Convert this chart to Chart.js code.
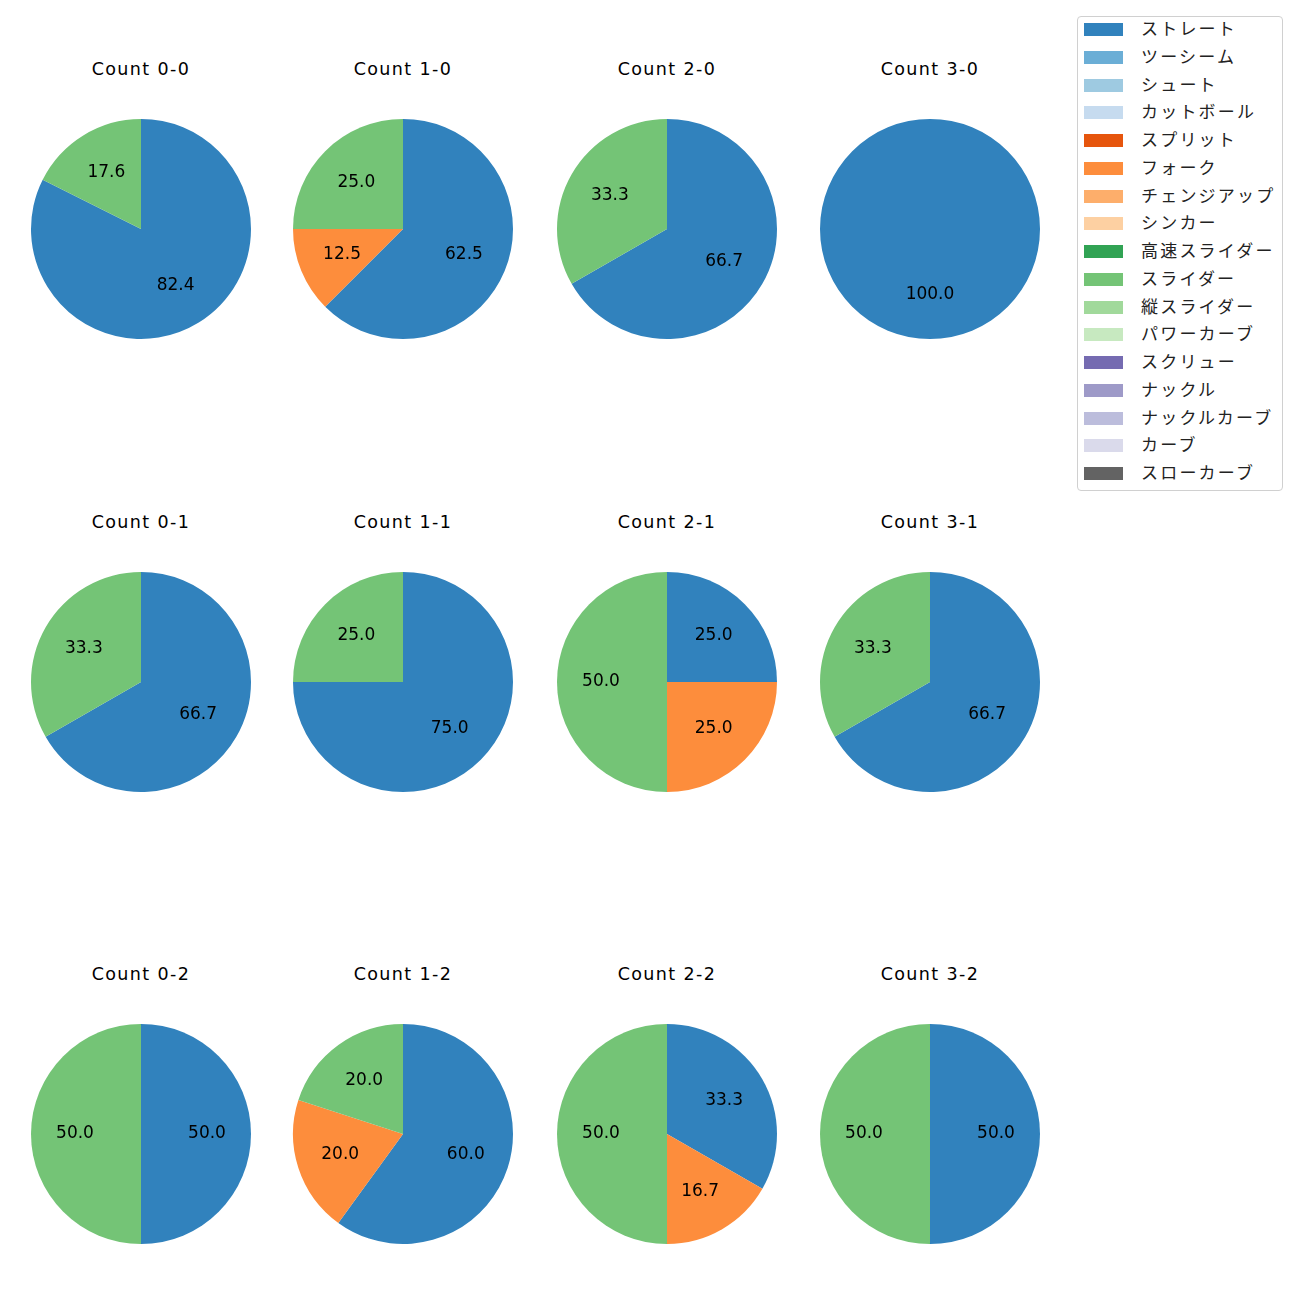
<!DOCTYPE html>
<html>
<head>
<meta charset="utf-8">
<script src="https://cdn.jsdelivr.net/npm/chart.js@4/dist/chart.umd.min.js"></script>
<style>
    body { margin: 0; background: #fff; font-family: "DejaVu Sans", "Noto Sans CJK JP", sans-serif; }
    #page { position: relative; width: 1300px; height: 1300px; }
    .pie { position: absolute; width: 230px; height: 230px; }
    .title { position: absolute; width: 200px; text-align: center; font-size: 17.5px; letter-spacing: 1.4px; color: #000; line-height: 20px; }
    #legend { position: absolute; left: 1077px; top: 16px; width: 206px; height: 475px; border: 1px solid #d0d0d0; border-radius: 4px; box-sizing: border-box; }
    .item { position: relative; height: 27.75px; }
    .swatch { position: absolute; left: 6px; top: 6px; width: 39px; height: 13px; }
    .label { position: absolute; left: 63px; top: 0px; font-family: "Noto Sans CJK JP", sans-serif; font-size: 17px; letter-spacing: 2.2px; line-height: 22px; color: #222; white-space: nowrap; }
</style>
</head>
<body>
<div id="page"><div id="legend"></div></div>
<script>
// pitch types, in legend order
const pitchTypes = ['ストレート', 'ツーシーム', 'シュート', 'カットボール', 'スプリット', 'フォーク', 'チェンジアップ', 'シンカー',
    '高速スライダー', 'スライダー', '縦スライダー', 'パワーカーブ', 'スクリュー', 'ナックル', 'ナックルカーブ', 'カーブ', 'スローカーブ'];
const pitchColors = ['#3182bd', '#6baed6', '#9ecae1', '#c6dbef', '#e6550d', '#fd8d3c', '#fdae6b', '#fdd0a2',
    '#31a354', '#74c476', '#a1d99b', '#c7e9c0', '#756bb1', '#9e9ac8', '#bcbddc', '#dadaeb', '#636363'];

// counts in grid order (row by row)
const countLabels = ['0-0', '1-0', '2-0', '3-0', '0-1', '1-1', '2-1', '3-1', '0-2', '1-2', '2-2', '3-2'];

// percentage per count for the pitch types that appear
const straightPct = [82.4, 62.5, 66.7, 100.0, 66.7, 75.0, 25.0, 66.7, 50.0, 60.0, 33.3, 50.0];
const forkPct     = [0, 12.5, 0, 0, 0, 0, 25.0, 0, 0, 20.0, 16.7, 0];
const sliderPct   = [17.6, 25.0, 33.3, 0, 33.3, 25.0, 50.0, 33.3, 50.0, 20.0, 50.0, 50.0];

const colCenters = [141, 403, 667, 930];
const rowCenters = [229, 682, 1134];

// percent labels inside slices, at 0.6 of the radius
const pctLabels = {
    id: 'pctLabels',
    afterDatasetsDraw(chart) {
        const ctx = chart.ctx;
        const meta = chart.getDatasetMeta(0);
        const data = chart.data.datasets[0].data;
        ctx.save();
        ctx.font = '17px "DejaVu Sans", sans-serif';
        ctx.fillStyle = '#000';
        ctx.textAlign = 'center';
        ctx.textBaseline = 'middle';
        meta.data.forEach((arc, i) => {
            if (!data[i]) return;
            const p = arc.getProps(['x', 'y', 'startAngle', 'endAngle', 'outerRadius']);
            const mid = (p.startAngle + p.endAngle) / 2;
            const r = p.outerRadius * 0.6;
            ctx.fillText(data[i].toFixed(1), p.x + Math.cos(mid) * r, p.y + Math.sin(mid) * r);
        });
        ctx.restore();
    }
};

const page = document.getElementById('page');
const shown = [0, 5, 9]; // ストレート, フォーク, スライダー

countLabels.forEach((label, i) => {
    const cx = colCenters[i % 4];
    const cy = rowCenters[Math.floor(i / 4)];

    const title = document.createElement('div');
    title.className = 'title';
    title.style.left = (cx - 100) + 'px';
    title.style.top = (cy - 170) + 'px';
    title.textContent = 'Count ' + label;
    page.appendChild(title);

    const box = document.createElement('div');
    box.className = 'pie';
    box.style.left = (cx - 115) + 'px';
    box.style.top = (cy - 115) + 'px';
    const canvas = document.createElement('canvas');
    box.appendChild(canvas);
    page.appendChild(box);

    new Chart(canvas, {
        type: 'pie',
        data: {
            labels: shown.map(k => pitchTypes[k]),
            datasets: [{
                data: [straightPct[i], forkPct[i], sliderPct[i]],
                backgroundColor: shown.map(k => pitchColors[k]),
                borderWidth: 0,
                hoverOffset: 0
            }]
        },
        options: {
            responsive: true,
            maintainAspectRatio: false,
            animation: false,
            layout: { padding: 5 },
            plugins: {
                legend: { display: false },
                tooltip: { enabled: false }
            }
        },
        plugins: [pctLabels]
    });
});

// legend
const legend = document.getElementById('legend');
pitchTypes.forEach((name, k) => {
    const item = document.createElement('div');
    item.className = 'item';
    item.innerHTML = '<div class="swatch" style="background:' + pitchColors[k] + '"></div><div class="label"></div>';
    item.querySelector('.label').textContent = name;
    legend.appendChild(item);
});
</script>
</body>
</html>
